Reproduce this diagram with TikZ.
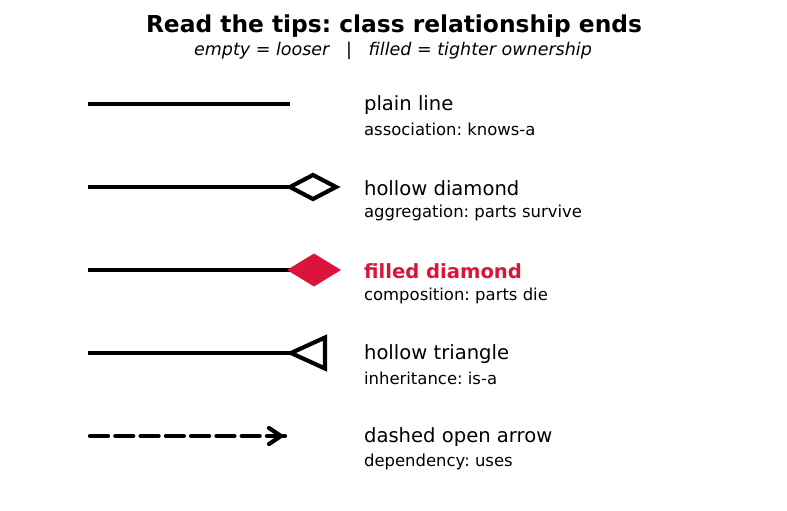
\documentclass[tikz,border=0pt]{standalone}
\usepackage{fontspec}
\setmainfont{DejaVu Sans}
\usepackage{tikz}
\usetikzlibrary{calc}
\definecolor{Crimson}{HTML}{DC143C}
\frenchspacing

\begin{document}
\begin{tikzpicture}[x=0.72pt, y=-0.72pt, line width=3pt,
    lbl/.style={anchor=west, inner sep=0pt, font=\fontsize{14.1}{17}\selectfont},
    sublbl/.style={anchor=west, inner sep=0pt, font=\fontsize{11.85}{14}\selectfont},
    tipline/.style={line width=3pt, line join=miter}]
        \useasboundingbox (0,0) rectangle (787,510);
        % Heading
        \node [font=\bfseries\fontsize{16.8}{20}\selectfont] (title) at (394,26) {Read the tips: class relationship ends};
        \node [font=\itshape\fontsize{12.6}{15}\selectfont] (subtitle) at (393,51) {empty = looser\ \ \ |\ \ \ filled = tighter ownership};
        % Plain line
        \coordinate (a1) at (88,104);
        \coordinate (b1) at (290,104);
        \draw (a1) -- (b1);
        % Hollow diamond
        \coordinate (a2) at (88,187);
        \coordinate (b2) at (290,187);
        \draw (a2) -- (b2);
        \draw [tipline, fill=white] (b2) -- ++(23,-12) -- ++(23,12) -- ++(-23,12) -- cycle;
        % Filled diamond
        \coordinate (a3) at (88,270);
        \coordinate (b3) at (290,270);
        \draw (a3) -- (b3);
        \fill [Crimson] ($(b3)+(-3,0)$) -- ++(27,-16.5) -- ++(27,16.5) -- ++(-27,16.5) -- cycle;
        % Hollow triangle
        \coordinate (a4) at (88,353);
        \coordinate (b4) at (290,353);
        \draw (a4) -- (b4);
        \draw [tipline, fill=white] ($(b4)+(1,0)$) -- ++(34,-15.5) -- ++(0,31) -- cycle;
        % Dashed open arrow
        \coordinate (a5) at (90,436);
        \coordinate (b5) at (286,436);
        \draw [line cap=round, dash pattern=on 13pt off 5.2pt] (a5) -- (b5);
        \draw [line cap=round, line join=round] ($(b5)+(-17,-8)$) -- ($(b5)+(-5,0)$) -- ($(b5)+(-17,8)$);
        % Labels
        \node [lbl] (n1) at (362,105) {plain line};
        \node [sublbl] (d1) at (362,129.5) {association: knows-a};
        \node [lbl] (n2) at (362,188) {hollow diamond};
        \node [sublbl] (d2) at (362,212.5) {aggregation: parts survive};
        \node [lbl, Crimson, font=\bfseries\fontsize{14.1}{17}\selectfont] (n3) at (362,271) {filled diamond};
        \node [sublbl] (d3) at (362,295.5) {composition: parts die};
        \node [lbl] (n4) at (362,354) {hollow triangle};
        \node [sublbl] (d4) at (362,378.5) {inheritance: is-a};
        \node [lbl] (n5) at (362,437) {dashed open arrow};
        \node [sublbl] (d5) at (362,461.5) {dependency: uses};
    \end{tikzpicture}
\end{document}
